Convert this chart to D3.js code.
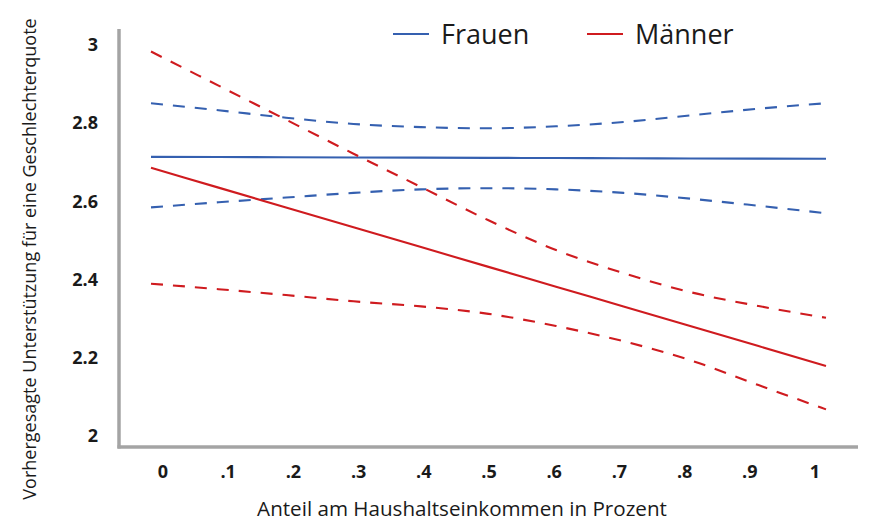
<!DOCTYPE html>
<html><head><meta charset="utf-8">
<script src="https://cdn.jsdelivr.net/npm/d3@7"></script>
<style>body{margin:0;background:#fff}svg{display:block}</style>
</head><body>
<svg id="c" width="880" height="529"></svg>
<script>
const xValues = [0, 0.1, 0.2, 0.3, 0.4, 0.5, 0.6, 0.7, 0.8, 0.9, 1];
const frauenFit = [2.713, 2.7125, 2.712, 2.7115, 2.711, 2.7105, 2.710, 2.7095, 2.709, 2.7085, 2.708];
const frauenUpper = [2.850, 2.832, 2.813, 2.797, 2.789, 2.786, 2.791, 2.802, 2.819, 2.836, 2.850];
const frauenLower = [2.584, 2.597, 2.609, 2.621, 2.630, 2.633, 2.630, 2.621, 2.606, 2.588, 2.569];
const maennerFit = [2.685, 2.6344, 2.5838, 2.5332, 2.4826, 2.432, 2.3814, 2.3308, 2.2802, 2.2296, 2.179];
const maennerUpper = [2.982, 2.895, 2.808, 2.721, 2.636, 2.551, 2.475, 2.416, 2.367, 2.332, 2.302];
const maennerLower = [2.389, 2.375, 2.360, 2.344, 2.331, 2.312, 2.281, 2.242, 2.193, 2.130, 2.068];
const yTicks = [2, 2.2, 2.4, 2.6, 2.8, 3];
const yTickLabels = ["2", "2.2", "2.4", "2.6", "2.8", "3"];
const xTicks = [0, 0.1, 0.2, 0.3, 0.4, 0.5, 0.6, 0.7, 0.8, 0.9, 1];
const xTickLabels = ["0", ".1", ".2", ".3", ".4", ".5", ".6", ".7", ".8", ".9", "1"];
const legendNames = ["Frauen", "Männer"];
const colors = {Frauen: "#3560b0", "Männer": "#cf1b1f"};

const svg = d3.select("#c");
const x = d3.scaleLinear().domain([0, 1]).range([151, 826]);
const xLab = d3.scaleLinear().domain([0, 1]).range([163, 815]);
const y = d3.scaleLinear().domain([2, 3]).range([436, 44.5]);

// axes
svg.append("line").attr("x1", 119).attr("x2", 119).attr("y1", 29).attr("y2", 448.5)
  .attr("stroke", "#a4a4a4").attr("stroke-width", 3.5);
svg.append("line").attr("x1", 117.5).attr("x2", 858).attr("y1", 447).attr("y2", 447)
  .attr("stroke", "#a4a4a4").attr("stroke-width", 3.5);

svg.append("g").selectAll("text").data(yTicks).join("text")
  .attr("x", 98).attr("y", d => y(d)).attr("dy", "0.36em")
  .attr("text-anchor", "end").attr("font-family", "Open Sans").attr("font-weight", 700)
  .attr("font-size", 18).attr("fill", "#1a1a1a").text((d, i) => yTickLabels[i]);

svg.append("g").selectAll("text").data(xTicks).join("text")
  .attr("x", d => xLab(d)).attr("y", 472).attr("dy", "0.36em")
  .attr("text-anchor", "middle").attr("font-family", "Open Sans").attr("font-weight", 700)
  .attr("font-size", 18).attr("fill", "#1a1a1a").text((d, i) => xTickLabels[i]);

function fitText(sel, w) {
  const n = sel.node();
  const l = n.getComputedTextLength();
  const fs = parseFloat(sel.attr("font-size"));
  sel.attr("font-size", fs * w / l);
}
const xt = svg.append("text").attr("x", 462).attr("y", 516).attr("text-anchor", "middle")
  .attr("font-family", "Open Sans").attr("font-size", 18).attr("fill", "#1a1a1a")
  .text("Anteil am Haushaltseinkommen in Prozent");
fitText(xt, 410);
const yt = svg.append("text").attr("transform", "translate(36,259) rotate(-90)").attr("text-anchor", "middle")
  .attr("font-family", "Open Sans").attr("font-size", 16).attr("fill", "#1a1a1a")
  .text("Vorhergesagte Unterstützung für eine Geschlechterquote");
fitText(yt, 482);

const line = d3.line().x((d, i) => x(xValues[i])).y(d => y(d)).curve(d3.curveMonotoneX);
const series = [
  {v: frauenFit, c: colors.Frauen, dash: null},
  {v: frauenUpper, c: colors.Frauen, dash: "12,10"},
  {v: frauenLower, c: colors.Frauen, dash: "12,10"},
  {v: maennerFit, c: colors["Männer"], dash: null},
  {v: maennerUpper, c: colors["Männer"], dash: "12,10"},
  {v: maennerLower, c: colors["Männer"], dash: "12,10"}
];
svg.append("g").selectAll("path").data(series).join("path")
  .attr("d", d => line(d.v)).attr("fill", "none").attr("stroke", d => d.c)
  .attr("stroke-width", 2.1).attr("stroke-dasharray", d => d.dash);

// legend
const legX = [393, 587];
const lg = svg.append("g").selectAll("g").data(legendNames).join("g")
  .attr("transform", (d, i) => `translate(${legX[i]},34)`);
lg.append("line").attr("x1", 0).attr("x2", 36).attr("y1", 0).attr("y2", 0)
  .attr("stroke", d => colors[d]).attr("stroke-width", 2);
lg.append("text").attr("x", 48).attr("y", 0).attr("dy", "0.36em")
  .attr("font-family", "Open Sans").attr("font-size", 27).attr("fill", "#1a1a1a").text(d => d);
</script>
</body></html>
